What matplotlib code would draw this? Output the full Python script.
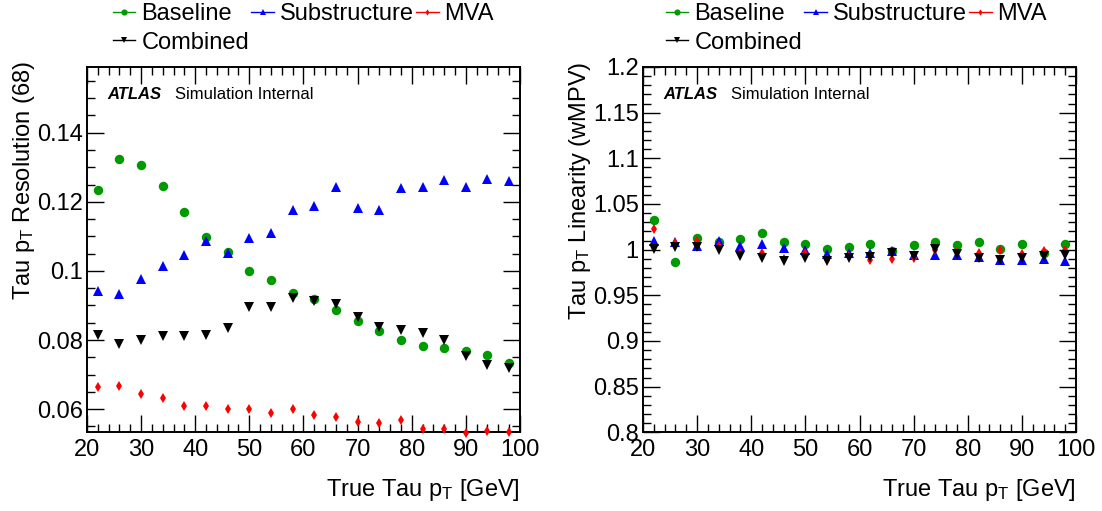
"""Tau pT resolution and linearity for the four calibration methods."""

import matplotlib

matplotlib.use("Agg")
import matplotlib.pyplot as plt
from matplotlib.lines import Line2D
from matplotlib.ticker import FuncFormatter, MultipleLocator

plt.rcParams["font.family"] = ["Liberation Sans", "DejaVu Sans"]
plt.rcParams["mathtext.fontset"] = "custom"
plt.rcParams["mathtext.rm"] = "Liberation Sans"
plt.rcParams["mathtext.it"] = "Liberation Sans:italic"
plt.rcParams["mathtext.bf"] = "Liberation Sans:bold"

# bin centres of true tau pT [GeV]
true_pt = [22, 26, 30, 34, 38, 42, 46, 50, 54, 58, 62, 66, 70, 74, 78, 82, 86, 90, 94, 98]
series_labels = ["Baseline", "Substructure", "MVA", "Combined"]

# resolution (68% interval)
res_baseline = [0.1234, 0.1323, 0.1307, 0.1247, 0.1171, 0.1098, 0.1055, 0.1000, 0.0975, 0.0936,
                0.0920, 0.0888, 0.0854, 0.0825, 0.0800, 0.0784, 0.0776, 0.0767, 0.0757, 0.0734]
res_substructure = [0.0943, 0.0932, 0.0977, 0.1014, 0.1047, 0.1087, 0.1053, 0.1096, 0.1109, 0.1175,
                    0.1187, 0.1244, 0.1181, 0.1176, 0.1240, 0.1244, 0.1263, 0.1244, 0.1267, 0.1260]
res_mva = [0.0664, 0.0667, 0.0644, 0.0632, 0.0610, 0.0610, 0.0601, 0.0601, 0.0590, 0.0601,
           0.0584, 0.0577, 0.0564, 0.0561, 0.0569, 0.0544, 0.0544, 0.0531, 0.0537, 0.0533]
res_combined = [0.0815, 0.0788, 0.0799, 0.0812, 0.0812, 0.0815, 0.0834, 0.0896, 0.0896, 0.0923,
                0.0912, 0.0904, 0.0868, 0.0838, 0.0828, 0.0820, 0.0801, 0.0753, 0.0728, 0.0720]

# linearity (weighted most probable value)
lin_baseline = [1.032, 0.986, 1.0126, 1.0086, 1.0122, 1.0184, 1.0086, 1.0064, 1.0002, 1.0024,
                1.0064, 0.9984, 1.0046, 1.0086, 1.0046, 1.0086, 1.0005, 1.0064, 0.9965, 1.0064]
lin_substructure = [1.0098, 1.0083, 1.0041, 1.0100, 1.0039, 1.0061, 1.0017, 0.9999, 0.9953, 0.9958,
                    0.9958, 0.9988, 0.9940, 0.9938, 0.9944, 0.9918, 0.9890, 0.9890, 0.9893, 0.9872]
lin_mva = [1.0225, 1.0069, 1.0090, 1.0045, 0.9959, 0.9966, 0.9902, 0.9958, 0.9888, 0.9935,
           0.9890, 0.9898, 0.9912, 0.9998, 0.9977, 0.9968, 0.9995, 0.9950, 0.9987, 0.9995]
lin_combined = [1.0005, 1.0030, 1.0030, 0.9991, 0.9930, 0.9912, 0.9876, 0.9914, 0.9879, 0.9914,
                0.9915, 0.9962, 0.9926, 1.0010, 0.9954, 0.9914, 0.9890, 0.9914, 0.9926, 0.9936]

STYLES = {
    "Baseline": dict(color="#009a00", marker="o", ms=6.8),
    "Substructure": dict(color="#0000ff", marker="^", ms=7.2),
    "MVA": dict(color="#ff0000", marker="d", ms=5.0),
    "Combined": dict(color="#000000", marker="v", ms=7.2),
}
# legend is filled column by column, so this order gives rows B/S/M then C
LEGEND_ORDER = ["Baseline", "Combined", "Substructure", "MVA"]
FONT = 17


def draw_panel(fig, rect, series, ylim, major, minor, ylabel, legend_x):
    ax = fig.add_axes(rect)
    for label, values in zip(series_labels, series):
        st = STYLES[label]
        ax.plot(true_pt, values, linestyle="none", marker=st["marker"], ms=st["ms"],
                color=st["color"], markeredgewidth=0, clip_on=False, zorder=3)

    ax.set_xlim(20, 100)
    ax.set_ylim(*ylim)
    ax.xaxis.set_major_locator(MultipleLocator(10))
    ax.xaxis.set_minor_locator(MultipleLocator(2))
    ax.yaxis.set_major_locator(MultipleLocator(major))
    ax.yaxis.set_minor_locator(MultipleLocator(minor))
    ax.yaxis.set_major_formatter(FuncFormatter(lambda v, _: f"{v:g}"))
    ax.tick_params(which="both", direction="in", top=True, right=True, labelsize=FONT, width=1.0)
    ax.tick_params(which="major", length=12)
    ax.tick_params(which="minor", length=6)
    ax.tick_params(axis="x", pad=5)
    ax.tick_params(axis="y", pad=3)
    for sp in ax.spines.values():
        sp.set_linewidth(1.4)

    ax.set_xlabel("True Tau p$_{\\mathrm{T}}$ [GeV]", fontsize=FONT, loc="right")
    ax.xaxis.set_label_coords(1.0, -0.122)
    ax.set_ylabel(ylabel, fontsize=FONT, loc="top")
    ax.yaxis.set_label_coords(-0.115, 1.015)

    ax.text(0.048, 0.912, "ATLAS", transform=ax.transAxes, fontsize=12,
            fontweight="bold", fontstyle="italic")
    ax.text(0.203, 0.912, "Simulation Internal", transform=ax.transAxes, fontsize=12)

    handles = [Line2D([], [], color=STYLES[l]["color"], marker=STYLES[l]["marker"],
                      ms=STYLES[l]["ms"] * 0.65, lw=1.0, markeredgewidth=0) for l in LEGEND_ORDER]
    fig.legend(handles, LEGEND_ORDER, loc="upper left", bbox_to_anchor=(legend_x, 0.994),
               ncol=3, frameon=False, fontsize=FONT, borderpad=0, borderaxespad=0,
               handlelength=0.95, handletextpad=0.25, columnspacing=0.1, labelspacing=0.28)
    return ax


fig = plt.figure(figsize=(11.02, 5.11), dpi=100)
draw_panel(fig, [0.0789, 0.154, 0.3929, 0.7149],
           [res_baseline, res_substructure, res_mva, res_combined],
           (0.0533, 0.159), 0.02, 0.005, "Tau p$_{\\mathrm{T}}$ Resolution (68)", 0.1025)
draw_panel(fig, [0.5835, 0.154, 0.3929, 0.7149],
           [lin_baseline, lin_substructure, lin_mva, lin_combined],
           (0.8, 1.2), 0.05, 0.01, "Tau p$_{\\mathrm{T}}$ Linearity (wMPV)", 0.6044)

fig.savefig("out.png", dpi=100)
